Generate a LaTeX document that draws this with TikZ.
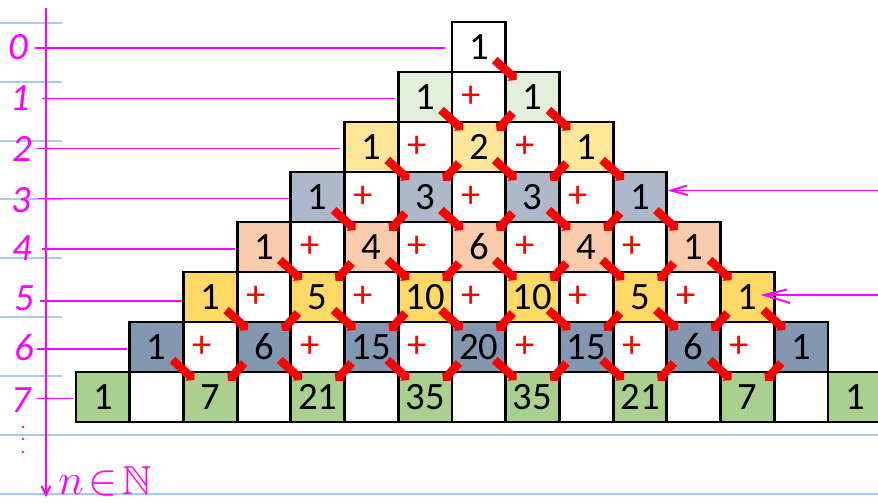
\documentclass[tikz,border=0pt]{standalone}
\usepackage{fontspec}
\setmainfont{Carlito}
\usepackage{amssymb}
\usetikzlibrary{arrows.meta,calc}
\definecolor{pinkc}{HTML}{FF00FF}
\definecolor{nbblue}{HTML}{A6CBF0}
\definecolor{redc}{HTML}{FF0000}
\definecolor{c0}{HTML}{FFFFFF}
\definecolor{c1}{HTML}{E2EFDA}
\definecolor{c2}{HTML}{FFE699}
\definecolor{c3}{HTML}{ADB9CA}
\definecolor{c4}{HTML}{F8CBAD}
\definecolor{c5}{HTML}{FFD966}
\definecolor{c6}{HTML}{8497B0}
\definecolor{c7}{HTML}{A9D08E}
\tikzset{
  cellbox/.style={draw=black, line width=1.6pt, minimum width=1.0742cm, minimum height=1cm,
    inner sep=0pt, outer sep=0pt, font=\fontsize{22}{24}\selectfont},
  numcell/.style={cellbox},
  pluscell/.style={cellbox, fill=white, text=redc},
  redarr/.style={draw=redc, line width=4.8pt, -{Triangle[width=7.5pt,length=3.5pt]}},
  pinkline/.style={draw=pinkc, line width=1.1pt},
  nbline/.style={draw=nbblue, line width=0.9pt},
  hand/.style={text=pinkc, inner sep=0pt, font=\fontsize{22}{24}\selectfont\itshape}
}
\begin{document}
\begin{tikzpicture}[x=0.02cm,y=-0.02cm]
\useasboundingbox (0,0) rectangle (878,503);
% notebook lines
\foreach \yy in {23,82,141,199,258,317,376}{\draw[nbline] (0,\yy) -- (62,\yy);}
\draw[nbline] (0,435) -- (878,435);
\draw[nbline] (0,494) -- (878,494);
% number cells
\foreach \k/\col/\vals in {0/c0/{1},1/c1/{1,1},2/c2/{1,2,1},3/c3/{1,3,3,1},4/c4/{1,4,6,4,1},5/c5/{1,5,10,10,5,1},6/c6/{1,6,15,20,15,6,1},7/c7/{1,7,21,35,35,21,7,1}}{
  \foreach \v [count=\i from 0] in \vals {
    \node[numcell, fill=\col] (n-\k-\i) at ({478.855-53.71*\k+107.42*\i},{47+50*\k}) {\v};
  }
}
% plus cells
\foreach \k in {1,...,6}{
  \pgfmathtruncatemacro\km{\k-1}
  \foreach \i in {0,...,\km}{
    \node[pluscell] (p-\k-\i) at ({532.565-53.71*\k+107.42*\i},{47+50*\k}) {\hspace{-9pt}+};
  }
}
\foreach \i in {0,...,6}{
  \node[pluscell] (p-7-\i) at ({532.565-53.71*7+107.42*\i},{397}) {};
}
% red arrows
\foreach \k in {0,...,6}{
  \foreach \i in {0,...,\k}{
    \pgfmathtruncatemacro\skipit{and(\k==6,\i==6)}
    \ifnum\skipit=0
      \draw[redarr] ($(n-\k-\i.south east)+(-11,-12)$) -- ($(n-\k-\i.south east)+(11,8)$);
    \fi
    \ifnum\i>0
      \draw[redarr] ($(n-\k-\i.south west)+(7,-9)$) -- ($(n-\k-\i.south west)+(-9,9)$);
    \fi
  }
}
% axis
\coordinate (axtop) at (46,8);
\coordinate (axbot) at (46,497);
\draw[pinkline, -{Straight Barb[length=5pt,width=5pt]}] (axtop) -- (axbot);
% row pointers
\foreach \k/\xs/\yy/\xe in {0/35/48/445,1/42/98.5/395,2/37/148.5/340,3/38/198.5/289,4/42/249/235,5/40/301/182,6/37/349/127,7/37/398.5/73}{
  \coordinate (ls-\k) at (\xs,\yy);
  \coordinate (le-\k) at (\xe,\yy);
  \draw[pinkline] (ls-\k) -- (le-\k);
}
% hand digits
\foreach \k/\xx/\yy in {0/18/47,1/20/98,2/22/149,3/21/200,4/22/248,5/24/298,6/24/348,7/21/400}{
  \node[hand] (h-\k) at (\xx,\yy) {\k};
}
\foreach \yy in {427,439,452}{\fill[pinkc] (23,\yy) circle (1.3);}
\node[text=pinkc, anchor=base west, inner sep=0pt, font=\fontsize{23}{24}\selectfont] (nset) at (58,494) {$n\mkern2mu{\in}\mkern2mu\mathbb{N}$};
% right arrows
\coordinate (ra1s) at (878,190.5);
\coordinate (ra1e) at (671,190.5);
\draw[pinkline] (ra1s) -- (ra1e);
\draw[pinkline] (687,185.5) -- (ra1e) -- (688,195);
\coordinate (ra2s) at (878,295);
\coordinate (ra2e) at (764,295);
\draw[pinkline] (ra2s) -- (ra2e);
\draw[pinkline] (787,289.5) -- (ra2e) -- (790,303);
\end{tikzpicture}
\end{document}
